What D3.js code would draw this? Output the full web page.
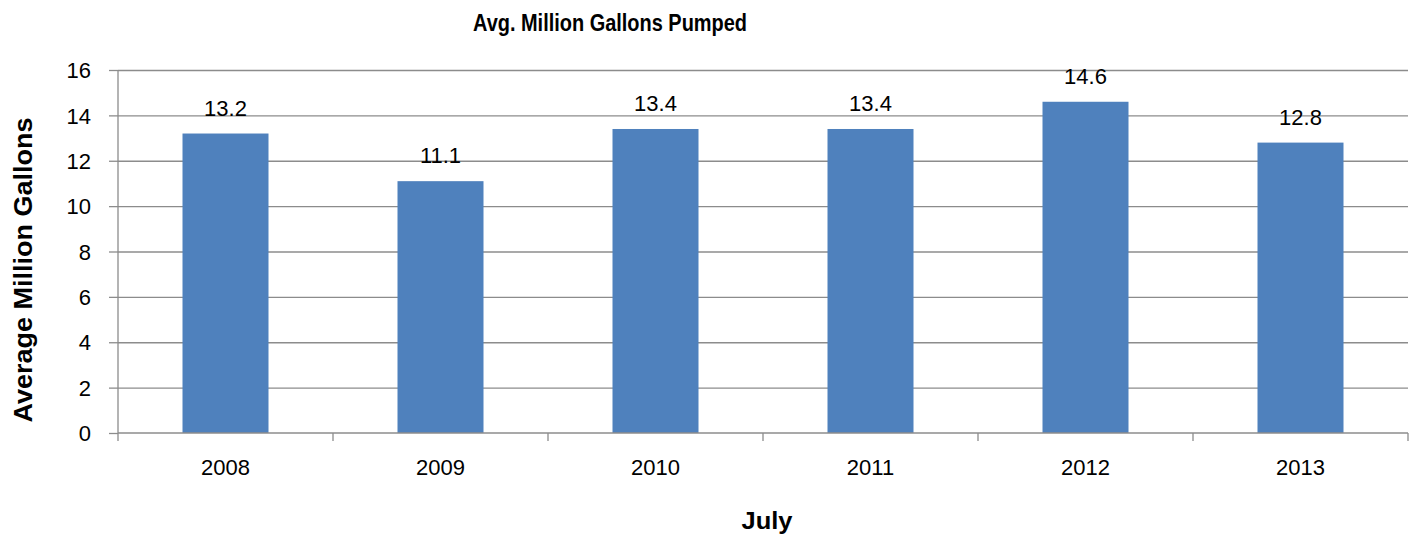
<!DOCTYPE html>
<html><head><meta charset="utf-8">
<script src="https://cdn.jsdelivr.net/npm/d3@7"></script>
<style>body{margin:0;background:#fff;} svg{display:block;}</style>
</head><body>
<svg id="c" width="1416" height="537"></svg>
<script>
const categories = ["2008","2009","2010","2011","2012","2013"];
const values = [13.2, 11.1, 13.4, 13.4, 14.6, 12.8];
const yTicks = [0,2,4,6,8,10,12,14,16];
const title = "Avg. Million Gallons Pumped";
const xTitle = "July";
const yTitle = "Average Million Gallons";

const svg = d3.select("#c");
const m = {l:118, r:8, t:70, b:104};
const W = 1416, H = 537;
const x = d3.scaleBand().domain(categories).range([m.l, W-m.r]).padding(0);
const y = d3.scaleLinear().domain([0,16]).range([H-m.b, m.t]);
const font = "'Liberation Sans', Arial, sans-serif";
const grid = "#8c8c8c";

// gridlines
svg.append("g").selectAll("line").data(yTicks.filter(d=>d>0)).join("line")
  .attr("x1", m.l).attr("x2", W-m.r)
  .attr("y1", d=>y(d)+0.5).attr("y2", d=>y(d)+0.5)
  .attr("stroke", grid).attr("stroke-width", 1.3);

// bars
const bw = x.bandwidth()*0.4;
svg.append("g").selectAll("rect").data(values).join("rect")
  .attr("x", (d,i)=>x(categories[i]) + x.bandwidth()*0.3)
  .attr("width", bw)
  .attr("y", d=>y(d))
  .attr("height", d=>y(0)-y(d))
  .attr("fill", "#4f81bd");

// value labels
svg.append("g").selectAll("text").data(values).join("text")
  .attr("x", (d,i)=>x(categories[i]) + x.bandwidth()/2)
  .attr("y", d=>y(d)-18)
  .attr("text-anchor","middle")
  .attr("font-family", font).attr("font-size", 22).attr("fill","#000")
  .text(d=>d.toFixed(1));

// y axis
const ya = d3.axisLeft(y).tickValues(yTicks).tickSize(9).tickPadding(18).tickFormat(d3.format("d"));
const gy = svg.append("g").attr("transform", `translate(${m.l},0)`).call(ya);
gy.select(".domain").attr("stroke", grid).attr("stroke-width",1.3).attr("d", `M0,${y(16)}V${y(0)}`);
gy.selectAll(".tick line").attr("stroke", grid).attr("stroke-width",1.3);
gy.selectAll(".tick text").attr("font-family", font).attr("font-size", 22).attr("fill","#000").attr("dy","0.35em");

// x axis
const xa = d3.axisBottom(x).tickSize(0).tickPadding(26);
const gx = svg.append("g").attr("transform", `translate(0,${y(0)})`).call(xa);
gx.select(".domain").attr("stroke", grid).attr("stroke-width",1.3).attr("d", `M${m.l},0H${W-m.r}`);
gx.selectAll(".tick text").attr("font-family", font).attr("font-size", 22).attr("fill","#000");
// category boundary ticks
const bounds = categories.map(c=>x(c)).concat([x(categories[categories.length-1])+x.bandwidth()]);
gx.append("g").selectAll("line").data(bounds).join("line")
  .attr("x1", d=>d).attr("x2", d=>d).attr("y1",0).attr("y2",8)
  .attr("stroke", grid).attr("stroke-width",1.3);

// titles
svg.append("text").attr("x", 610).attr("y", 31).attr("text-anchor","middle")
  .attr("font-family", font).attr("font-weight","bold").attr("font-size", 24)
  .attr("textLength", 274).attr("lengthAdjust","spacingAndGlyphs").text(title);
svg.append("text").attr("x", 767).attr("y", 529).attr("text-anchor","middle")
  .attr("font-family", font).attr("font-weight","bold").attr("font-size", 24)
  .attr("textLength", 51).attr("lengthAdjust","spacingAndGlyphs").text(xTitle);
svg.append("text").attr("transform", `translate(32,270) rotate(-90)`).attr("text-anchor","middle")
  .attr("font-family", font).attr("font-weight","bold").attr("font-size", 25)
  .attr("textLength", 305).attr("lengthAdjust","spacingAndGlyphs").text(yTitle);
</script>
</body></html>
